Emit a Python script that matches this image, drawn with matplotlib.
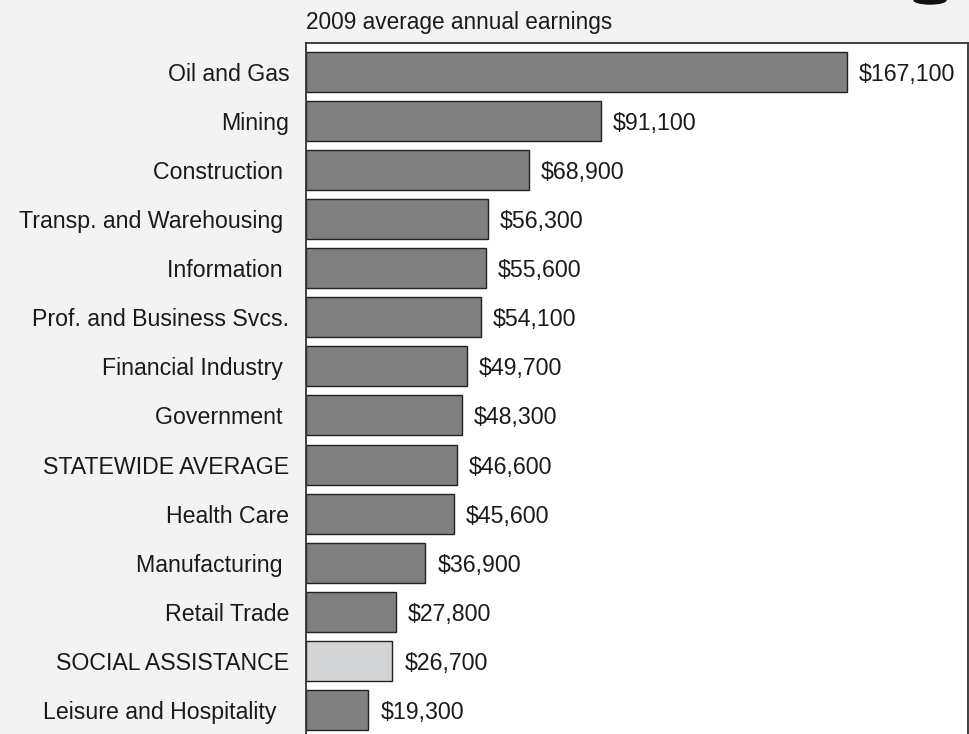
import numpy as np
import matplotlib
matplotlib.use("Agg")
import matplotlib.pyplot as plt
from matplotlib.patches import Ellipse

plt.rcParams['font.family'] = ['Liberation Sans', 'DejaVu Sans']

# industries, top to bottom (trailing spaces as in the original labels)
industries = ['Oil and Gas', 'Mining', 'Construction ', 'Transp. and Warehousing ',
              'Information ', 'Prof. and Business Svcs.', 'Financial Industry ',
              'Government ', 'STATEWIDE AVERAGE', 'Health Care', 'Manufacturing ',
              'Retail Trade', 'SOCIAL ASSISTANCE', 'Leisure and Hospitality  ']
earnings = [167100, 91100, 68900, 56300, 55600, 54100, 49700,
            48300, 46600, 45600, 36900, 27800, 26700, 19300]
highlight = 'SOCIAL ASSISTANCE'

bg = '#f2f3f2'
fig = plt.figure(figsize=(9.7, 7.34), dpi=100, facecolor=bg)
ax = fig.add_axes([306/970, 0.0, 662/970, 1 - 43/734])
ax.set_facecolor('white')

y = np.arange(len(industries))
colors = ['#d3d4d6' if s.strip() == highlight else '#808080' for s in industries]
ax.barh(y, earnings, height=0.815, color=colors, edgecolor='#222222', linewidth=1.0)

for yi, v in zip(y, earnings):
    ax.annotate('${:,}'.format(v), (v, yi), xytext=(8.5, 0), textcoords='offset points',
                ha='left', va='center_baseline', fontsize=16.7, color='#1a1a1a')

ax.set_xlim(0, 204500)
ax.set_ylim(13.49, -0.59)
ax.set_yticks(y)
ax.set_yticklabels(industries, fontsize=16.7, color='#1a1a1a')
ax.set_xticks([])
ax.tick_params(axis='y', length=0, pad=12)

for side in ['left', 'top', 'right']:
    ax.spines[side].set_color('#333333')
    ax.spines[side].set_linewidth(1.3)
ax.spines['bottom'].set_visible(False)

fig.text(306/970, 1 - 23/734, '2009 average annual earnings', ha='left', va='center',
         fontsize=16.3, color='#1a1a1a')

# bit of the logo peeking in at the top right corner
fig.patches.append(Ellipse((930/970, 1.0), 32/970, 8/734, transform=fig.transFigure,
                           color='#111111', clip_on=True))

fig.savefig('out.png', dpi=100, facecolor=bg)
